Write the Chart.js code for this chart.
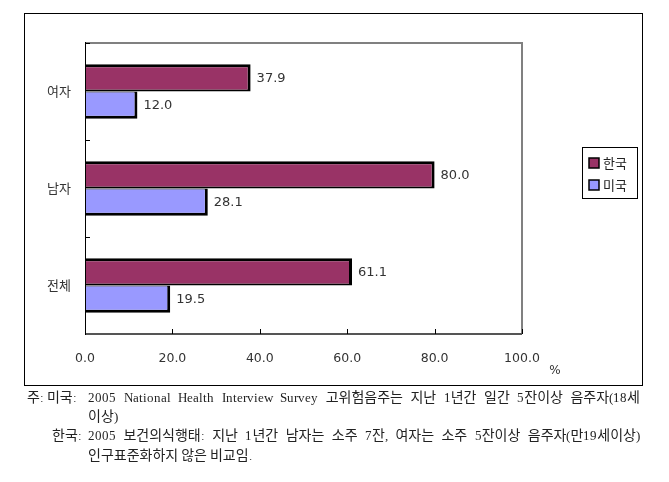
<!DOCTYPE html>
<html>
<head>
<meta charset="utf-8">
<title>고위험음주율 비교</title>
<script src="https://cdn.jsdelivr.net/npm/chart.js@4.4.0/dist/chart.umd.min.js"></script>
<style>
  @font-face { font-family: "NoteSerif"; src: local("Liberation Serif"); size-adjust: 91%; }
  body { margin: 0; background: #fff; }
  #wrap { position: relative; width: 669px; height: 482px; overflow: hidden; }
  #wrap canvas { position: absolute; left: 0; top: 0; }
  .note {
    position: absolute;
    font-family: "NoteSerif", "Noto Sans CJK KR", serif;
    font-size: 14px;
    line-height: 19px;
    color: #222;
    white-space: nowrap;
  }
  .just { text-align: justify; text-align-last: justify; white-space: normal; }
</style>
</head>
<body>
<div id="wrap">
  <canvas id="myChart" width="669" height="482"></canvas>
  <div class="note" style="left:27px; top:389px;">주: 미국:</div>
  <div class="note just" style="left:88px; top:389px; width:552px;">2005 National Health Interview Survey 고위험음주는 지난 1년간 일간 5잔이상 음주자(18세</div>
  <div class="note" style="left:88px; top:408px;">이상)</div>
  <div class="note" style="left:52px; top:427px;">한국:</div>
  <div class="note just" style="left:88px; top:427px; width:552px;">2005 보건의식행태: 지난 1년간 남자는 소주 7잔, 여자는 소주 5잔이상 음주자(만19세이상)</div>
  <div class="note" style="left:88px; top:447px;">인구표준화하지 않은 비교임.</div>
</div>
<script>
// data
const categories = ["여자", "남자", "전체"];
const seriesNames = ["한국", "미국"];
const koreaValues = [37.9, 80.0, 61.1];
const usaValues = [12.0, 28.1, 19.5];
const xTickValues = [0, 20, 40, 60, 80, 100];
const unitLabel = "%";

const numFont = '"DejaVu Sans", sans-serif';
const korFont = '"Noto Sans CJK KR", sans-serif';

// value text at the end of each bar
const valueLabels = {
  id: "valueLabels",
  afterDatasetsDraw(chart) {
    const ctx = chart.ctx;
    ctx.save();
    ctx.font = "13px " + numFont;
    ctx.fillStyle = "#333";
    ctx.textBaseline = "middle";
    ctx.textAlign = "left";
    chart.data.datasets.forEach((ds, i) => {
      chart.getDatasetMeta(i).data.forEach((el, j) => {
        ctx.fillText(ds.data[j].toFixed(1), el.x + 6, el.y + 1);
      });
    });
    ctx.restore();
  }
};

// outer frame, plot box, inner tick marks, % sign, legend box
const frameStuff = {
  id: "frameStuff",
  afterDatasetsDraw(chart) {
    const ctx = chart.ctx;
    const a = chart.chartArea;
    const xs = chart.scales.x;
    const ys = chart.scales.y;
    ctx.save();

    // plot box: gray top/right/bottom, black left axis
    ctx.strokeStyle = "#808080";
    ctx.lineWidth = 2;
    ctx.beginPath();
    ctx.moveTo(a.left, a.top);
    ctx.lineTo(a.right, a.top);
    ctx.lineTo(a.right, a.bottom);
    ctx.stroke();
    ctx.strokeStyle = "#555";
    ctx.beginPath();
    ctx.moveTo(a.left, a.bottom);
    ctx.lineTo(a.right, a.bottom);
    ctx.stroke();
    ctx.strokeStyle = "#000";
    ctx.lineWidth = 1;
    ctx.beginPath();
    ctx.moveTo(a.left + 0.5, a.top - 1);
    ctx.lineTo(a.left + 0.5, a.bottom + 1);
    ctx.stroke();

    // small tick marks pointing inwards
    ctx.beginPath();
    xTickValues.forEach(v => {
      const px = Math.round(xs.getPixelForValue(v)) + 0.5;
      ctx.moveTo(px, a.bottom);
      ctx.lineTo(px, a.bottom - 5);
    });
    for (let i = 0; i < categories.length; i++) {
      const half = (ys.getPixelForValue(1) - ys.getPixelForValue(0)) / 2;
      const py = Math.round(ys.getPixelForValue(i) - half) + 0.5;
      ctx.moveTo(a.left, py);
      ctx.lineTo(a.left + 5, py);
    }
    ctx.stroke();

    // outer frame
    ctx.strokeStyle = "#000";
    ctx.lineWidth = 1;
    ctx.strokeRect(24.5, 13.5, 618, 372);

    // unit sign
    ctx.font = "12px " + numFont;
    ctx.fillStyle = "#333";
    ctx.textAlign = "center";
    ctx.textBaseline = "middle";
    ctx.fillText(unitLabel, 555, 371);

    // legend
    ctx.strokeRect(582.5, 147.5, 55, 51);
    ctx.font = "13px " + korFont;
    ctx.textAlign = "left";
    chart.data.datasets.forEach((ds, i) => {
      const y = 158 + i * 22;
      ctx.fillStyle = ds.backgroundColor;
      ctx.fillRect(589, y, 10, 10);
      ctx.lineWidth = 1.5;
      ctx.strokeRect(589, y, 10, 10);
      ctx.fillStyle = "#222";
      ctx.fillText(ds.label, 603, y + 5);
    });
    ctx.restore();
  }
};

new Chart(document.getElementById("myChart"), {
  type: "bar",
  data: {
    labels: categories,
    datasets: [
      {
        label: seriesNames[0],
        data: koreaValues,
        backgroundColor: "#993366",
        borderColor: "#000",
        borderWidth: { top: 3, right: 3, bottom: 2, left: 0 },
        categoryPercentage: 0.56,
        barPercentage: 1.0
      },
      {
        label: seriesNames[1],
        data: usaValues,
        backgroundColor: "#9999ff",
        borderColor: "#000",
        borderWidth: { top: 1, right: 3, bottom: 3, left: 0 },
        categoryPercentage: 0.56,
        barPercentage: 1.0
      }
    ]
  },
  options: {
    indexAxis: "y",
    responsive: false,
    animation: false,
    layout: { padding: { top: 43, right: 147, bottom: 0, left: 0 } },
    plugins: {
      legend: { display: false },
      tooltip: { enabled: false }
    },
    scales: {
      x: {
        min: 0,
        max: 100,
        afterFit: s => { s.height = 148; },
        afterBuildTicks: s => { s.ticks = xTickValues.map(v => ({ value: v })); },
        grid: { display: false, drawTicks: false },
        border: { display: false },
        ticks: {
          padding: 17,
          color: "#333",
          font: { family: numFont, size: 12.5 },
          callback: v => Number(v).toFixed(1)
        }
      },
      y: {
        afterFit: s => { s.width = 85; },
        grid: { display: false, drawTicks: false },
        border: { display: false },
        ticks: {
          padding: 14,
          color: "#333",
          font: { family: korFont, size: 13 }
        }
      }
    }
  },
  plugins: [valueLabels, frameStuff]
});
</script>
</body>
</html>
